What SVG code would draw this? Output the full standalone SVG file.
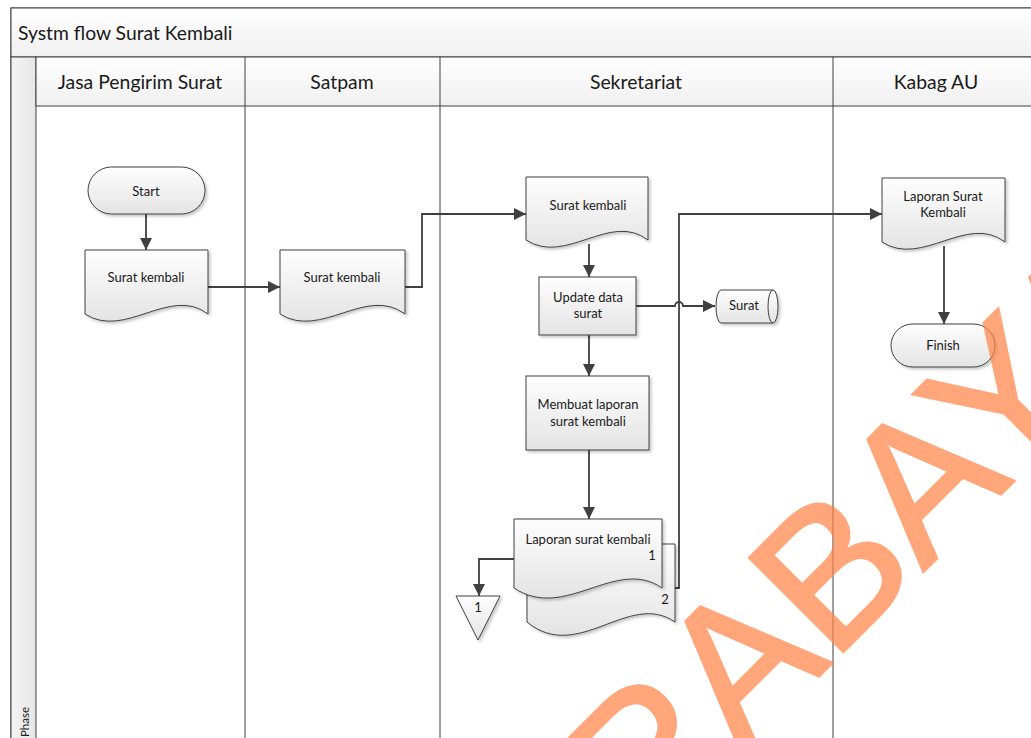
<svg xmlns="http://www.w3.org/2000/svg" width="1031" height="738" viewBox="0 0 1031 738">
  <defs>
    <linearGradient id="barGrad" x1="0" y1="0" x2="0" y2="1">
      <stop offset="0" stop-color="#ffffff"/>
      <stop offset="1" stop-color="#f0f0f0"/>
    </linearGradient>
    <linearGradient id="phaseGrad" x1="0" y1="0" x2="1" y2="0">
      <stop offset="0" stop-color="#f4f4f4"/>
      <stop offset="1" stop-color="#e6e6e6"/>
    </linearGradient>
    <linearGradient id="shapeGrad" x1="0" y1="0" x2="0" y2="1">
      <stop offset="0" stop-color="#fefefe"/>
      <stop offset="1" stop-color="#e4e4e4"/>
    </linearGradient>
    <filter id="shadow" x="-10%" y="-10%" width="130%" height="130%">
      <feDropShadow dx="2" dy="2" stdDeviation="1.5" flood-color="#000" flood-opacity="0.22"/>
    </filter>
    <marker id="arrow" markerUnits="userSpaceOnUse" markerWidth="12" markerHeight="12" viewBox="0 0 12 12" refX="12" refY="6" orient="auto">
      <path d="M0,0 L12,6 L0,12 Z" fill="#404040"/>
    </marker>
  </defs>
  <style>
    .lbl { font-family: Lato, "Liberation Sans", sans-serif; fill: #1a1a1a; }
    .head { font-size: 19.4px; text-anchor: middle; }
    .node { font-size: 13px; text-anchor: middle; }
    .shape { fill: url(#shapeGrad); stroke: #404040; stroke-width: 1; filter: url(#shadow); }
    .lane { fill: none; stroke: #404040; stroke-width: 1; }
    .conn path { fill: none; stroke: #404040; stroke-width: 1.8; }
    .arr { marker-end: url(#arrow); }
  </style>

  <rect width="1031" height="738" fill="#ffffff"/>

  <!-- pool frame, title bar and phase column -->
  <g id="pool">
    <rect x="11" y="8" width="1030" height="740" fill="#ffffff" stroke="#404040"/>
    <rect x="11" y="8" width="1030" height="49" fill="url(#barGrad)" stroke="#404040"/>
    <text class="lbl" x="18" y="40" font-size="19.3">Systm flow Surat Kembali</text>
    <rect x="11" y="57" width="25" height="690" fill="url(#phaseGrad)" stroke="#404040"/>
    <text class="lbl" font-size="11.5" transform="translate(29,737) rotate(-90)">Phase</text>
  </g>

  <!-- swimlane headers and dividers -->
  <g id="lanes">
    <rect x="36" y="57" width="1010" height="49" fill="url(#barGrad)" stroke="#404040"/>
    <line class="lane" x1="245" y1="57" x2="245" y2="738"/>
    <line class="lane" x1="440" y1="57" x2="440" y2="738"/>
    <line class="lane" x1="833" y1="57" x2="833" y2="738"/>
    <text class="lbl head" x="140" y="89">Jasa Pengirim Surat</text>
    <text class="lbl head" x="342" y="89">Satpam</text>
    <text class="lbl head" x="636" y="89">Sekretariat</text>
    <text class="lbl head" x="936" y="89">Kabag AU</text>
  </g>

  <!-- connectors -->
  <g id="connectors" class="conn">
    <path class="arr" d="M146,214 V250"/>
    <path class="arr" d="M208,287 H280"/>
    <path class="arr" d="M405,287 H422 V214 H526"/>
    <path class="arr" d="M589,244 V277"/>
    <path class="arr" d="M636,306 H675 A4,4 0 0 1 683,306 H715"/>
    <path class="arr" d="M589,335 V376"/>
    <path class="arr" d="M589,450 V519"/>
    <path class="arr" d="M514,559 H479 V596"/>
    <path class="arr" d="M675,588 H679 V214 H882"/>
    <path class="arr" d="M944,246 V324"/>
  </g>

  <!-- Jasa Pengirim Surat -->
  <g id="start">
    <rect class="shape" x="88" y="167" width="117" height="47" rx="23.5"/>
    <text class="lbl node" x="146" y="196">Start</text>
  </g>
  <g id="doc-jasa">
    <path class="shape" d="M85,250 H208 V314 C170,285 125,340 85,314 Z"/>
    <text class="lbl node" x="146" y="282">Surat kembali</text>
  </g>

  <!-- Satpam -->
  <g id="doc-satpam">
    <path class="shape" d="M280,250 H405 V314 C366,285 321,340 280,314 Z"/>
    <text class="lbl node" x="342" y="282">Surat kembali</text>
  </g>

  <!-- Sekretariat -->
  <g id="doc-sekretariat">
    <path class="shape" d="M526,177 H648 V240 C610,211 566,266 526,240 Z"/>
    <text class="lbl node" x="588" y="210">Surat kembali</text>
  </g>
  <g id="update">
    <rect class="shape" x="539" y="277" width="97" height="58"/>
    <text class="lbl node" x="588" y="302">Update data</text>
    <text class="lbl node" x="588" y="318">surat</text>
  </g>
  <g id="store-surat">
    <path class="shape" d="M721,290 H773 A5,16.5 0 0 1 773,323 H721 A5,16.5 0 0 1 721,290 Z"/>
    <path d="M773,290 A5,16.5 0 0 0 773,323" fill="none" stroke="#404040"/>
    <text class="lbl node" x="744" y="310">Surat</text>
  </g>
  <g id="membuat">
    <rect class="shape" x="526" y="376" width="123" height="74"/>
    <text class="lbl node" x="588" y="409">Membuat laporan</text>
    <text class="lbl node" x="588" y="426">surat kembali</text>
  </g>
  <g id="laporan">
    <path class="shape" d="M527,544 H675 V622 C629,590 578,664 527,622 Z"/>
    <path class="shape" d="M514,519 H662 V588 C616,556 565,622 514,588 Z"/>
    <text class="lbl node" x="588" y="544">Laporan surat kembali</text>
    <text class="lbl node" x="652" y="560">1</text>
    <text class="lbl node" x="665" y="604">2</text>
  </g>
  <g id="offpage-1">
    <path class="shape" d="M456,596 H500 L478,640 Z"/>
    <text class="lbl node" x="478" y="612">1</text>
  </g>

  <!-- Kabag AU -->
  <g id="doc-kabag">
    <path class="shape" d="M882,178 H1005 V242 C967,213 922,268 882,242 Z"/>
    <text class="lbl node" x="943" y="201">Laporan Surat</text>
    <text class="lbl node" x="943" y="217">Kembali</text>
  </g>
  <g id="finish">
    <rect class="shape" x="891" y="324" width="104" height="43" rx="21.5"/>
    <text class="lbl node" x="943" y="350">Finish</text>
  </g>

  <!-- watermark -->
  <g opacity="0.72">
    <text x="0" y="0" font-family="'Liberation Sans', Arial, sans-serif" font-size="193" fill="#ff8448" stroke="#ff8448" stroke-width="3" stroke-linejoin="miter" transform="translate(453,1042) rotate(-45)">SURABAYA</text>
  </g>
</svg>
